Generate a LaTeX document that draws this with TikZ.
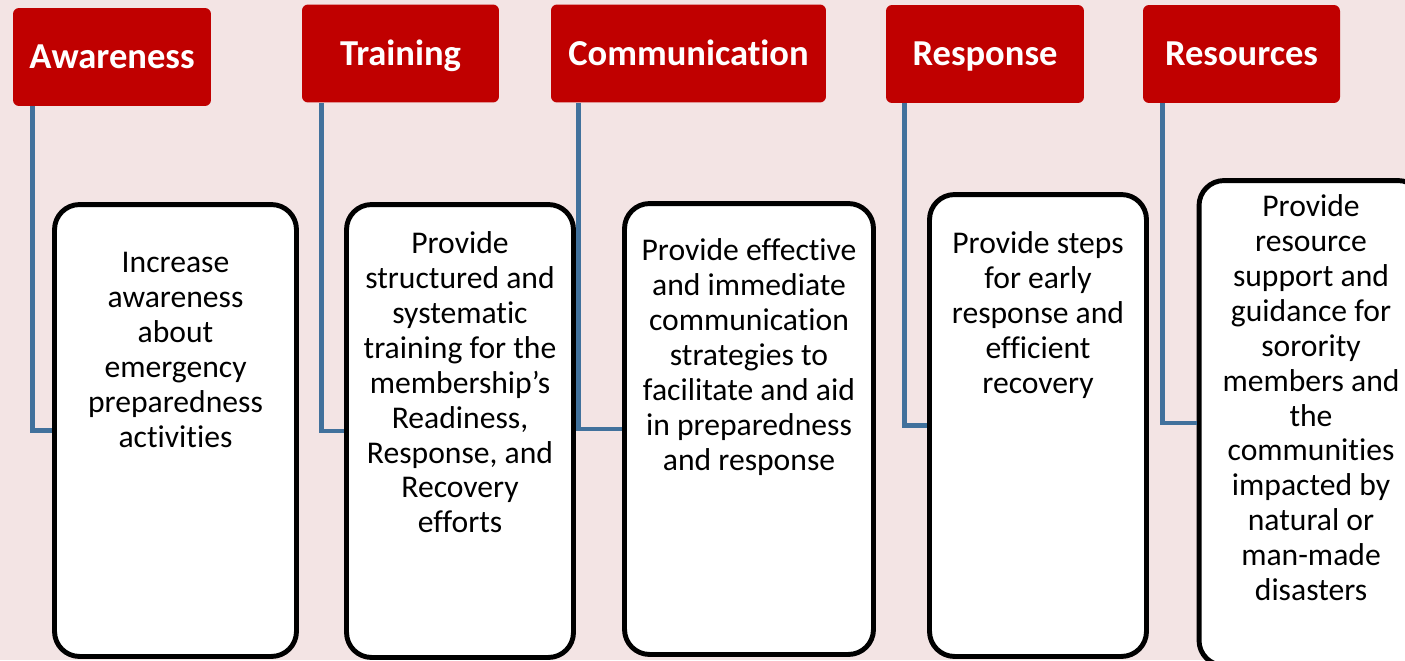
\documentclass[tikz,border=0pt]{standalone}
\usepackage{fontspec}
\setmainfont{Carlito}[Ligatures=NoCommon]
\usetikzlibrary{positioning}

\definecolor{bgpink}{RGB}{243,228,228}
\definecolor{hdrred}{RGB}{192,0,0}
\definecolor{linkblue}{RGB}{65,113,156}

\tikzset{
  hdr/.style={fill=hdrred, text=white, rounded corners=0.12cm, minimum height=1.96cm,
    inner sep=0pt, text height=13.3pt, text depth=0pt,
    font=\fontsize{20.8}{24}\selectfont\bfseries},
  card/.style={draw=black, line width=2.8pt, fill=white, rounded corners=0.5cm, inner sep=0pt},
  cardtext/.style={align=center, inner sep=0pt, font=\fontsize{18}{19.85}\selectfont},
  link/.style={draw=linkblue, line width=2.6pt}
}

\begin{document}
\begin{tikzpicture}[x=0.02cm, y=-0.02cm]
    \clip (0,0) rectangle (1405,660);
    \fill [bgpink] (0,0) rectangle (1405,660);

    % headings
    \node [hdr, minimum width=3.96cm] (h1) at (112,57) {Awareness};
    \node [hdr, minimum width=3.94cm] (h2) at (400.5,53.5) {Training};
    \node [hdr, minimum width=5.5cm] (h3) at (688.5,53.5) {Communication};
    \node [hdr, minimum width=3.96cm] (h4) at (985,54) {Response};
    \node [hdr, minimum width=3.94cm] (h5) at (1241.5,54) {Resources};

    % description cards
    \node [card, minimum width=4.84cm, minimum height=9.04cm] (b1) at (175.5,430.5) {};
    \node [card, minimum width=4.54cm, minimum height=9.06cm] (b2) at (460,431) {};
    \node [card, minimum width=4.98cm, minimum height=9.02cm] (b3) at (749,429) {};
    \node [card, minimum width=4.34cm, minimum height=9.24cm] (b4) at (1038,425.5) {};
    \node [card, minimum width=4.48cm, minimum height=9.70cm] (b5) at (1311,423) {};

    \node [cardtext, below=0.92cm of b1.north] (t1) {\strut Increase\\awareness\\about\\emergency\\preparedness\\activities};
    \node [cardtext, below=0.54cm of b2.north] (t2) {\strut Provide\\structured and\\systematic\\training for the\\membership’s\\Readiness,\\Response, and\\Recovery\\efforts};
    \node [cardtext, below=0.70cm of b3.north] (t3) {\strut Provide effective\\and immediate\\communication\\strategies to\\facilitate and aid\\in preparedness\\and response};
    \node [cardtext, below=0.74cm of b4.north] (t4) {\strut Provide steps\\for early\\response and\\efficient\\recovery};
    \node [cardtext, below=0.28cm of b5.north] (t5) {\strut Provide\\resource\\support and\\guidance for\\sorority\\members and\\the\\communities\\impacted by\\natural or\\man-made\\disasters};

    % connectors
    \draw [link] ([xshift=0.4cm]h1.south west) |- (b1.west);
    \draw [link] ([xshift=0.4cm]h2.south west) |- (b2.west);
    \draw [link] ([xshift=0.56cm]h3.south west) |- (b3.west);
    \draw [link] ([xshift=0.38cm]h4.south west) |- (b4.west);
    \draw [link] ([xshift=0.4cm]h5.south west) |- (b5.west);
\end{tikzpicture}
\end{document}
